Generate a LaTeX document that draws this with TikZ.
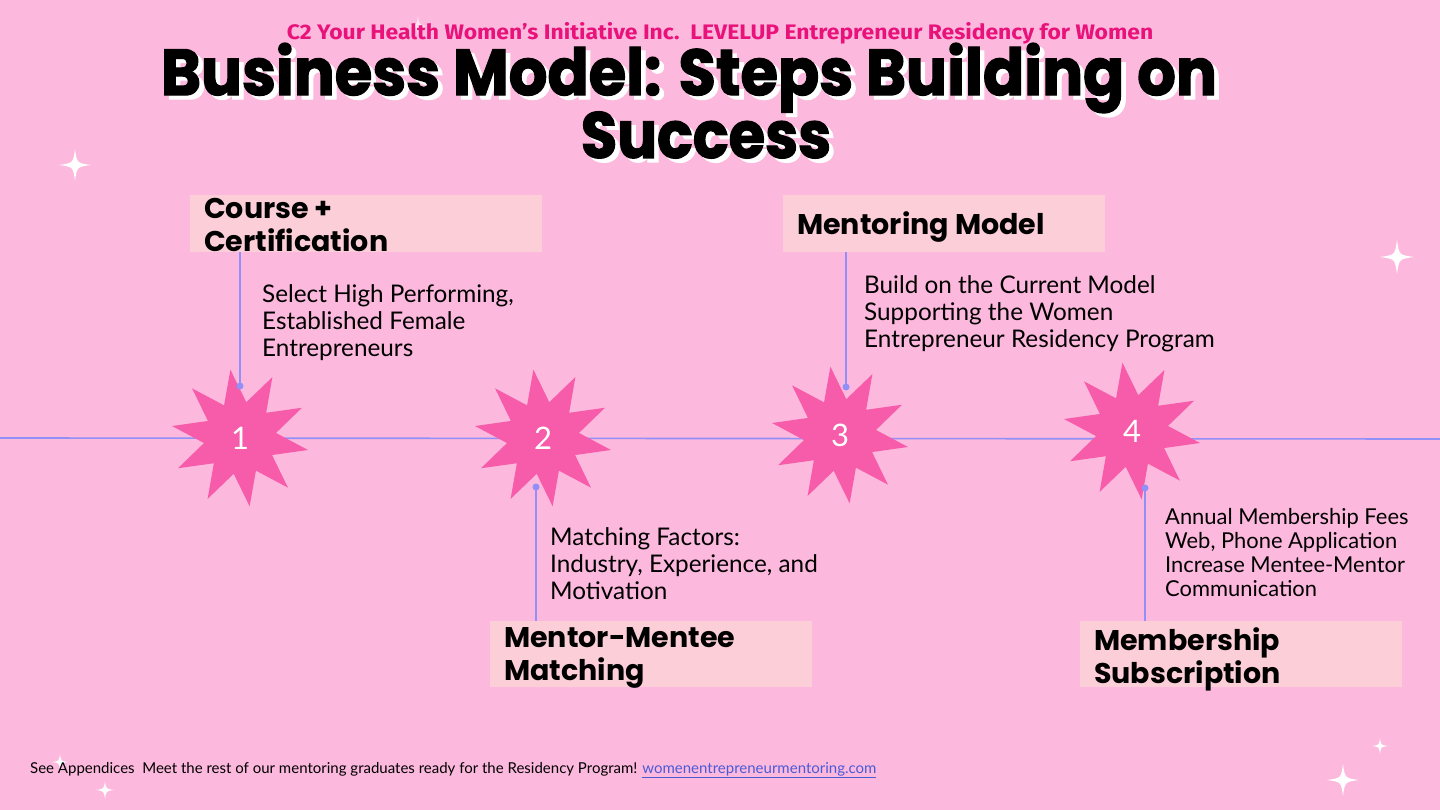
\documentclass[tikz,border=0pt]{standalone}
\usepackage{fontspec}
\setmainfont{Lato}
\newfontfamily\headfont{Poppins}
\newfontfamily\titlefont{Poppins}[BoldFeatures={FakeBold=2}]
\newfontfamily\subfont{Fira Sans}
\usetikzlibrary{shapes.geometric}
\definecolor{bgpink}{HTML}{FDB8DD}
\definecolor{boxpink}{HTML}{FCCFD8}
\definecolor{starpink}{HTML}{F65CA9}
\definecolor{linecol}{HTML}{9090F8}
\definecolor{subpink}{HTML}{E8127A}
\definecolor{linkblue}{HTML}{4A5BD6}
\newcommand{\shadowed}[1]{\rlap{\hspace{5pt}\raisebox{-4pt}{\color{white}#1}}#1}
\tikzset{
  sparkle/.pic={\fill[white] (0,-1) .. controls (0.12,-0.12) .. (1,0) .. controls (0.12,0.12) .. (0,1) .. controls (-0.12,0.12) .. (-1,0) .. controls (-0.12,-0.12) .. (0,-1) -- cycle;},
  burst/.style={star, star points=10, star point ratio=1.9, minimum size=138pt, inner sep=0pt, fill=starpink, shape border rotate=8, text=white, font=\fontsize{31}{31}\selectfont},
  headbox/.style={fill=boxpink, inner sep=0pt, anchor=north west},
  headtext/.style={anchor=north west, inner sep=0pt, align=left, font=\headfont\bfseries\fontsize{28.5}{33}\selectfont},
  bodytext/.style={anchor=north west, inner sep=0pt, align=left, font=\fontsize{24.3}{27}\selectfont},
  conn/.style={draw=linecol, line width=1.6pt},
  dotmark/.style={fill=linecol},
  titletext/.style={inner sep=0pt, text=black, font=\titlefont\bfseries\fontsize{65}{65}\selectfont},
}
\begin{document}
\begin{tikzpicture}[x=1pt,y=-1pt]
\fill[bgpink] (0,0) rectangle (1440,810);
\useasboundingbox (0,0) rectangle (1440,810);

% sparkles
\pic[scale=16] at (75,165) {sparkle};
\pic[scale=17] at (1397,257) {sparkle};
\pic[scale=8] at (1380,746) {sparkle};
\pic[scale=16] at (1343,780) {sparkle};
\pic[scale=8] at (60,762) {sparkle};
\pic[scale=9] at (105,790) {sparkle};
\pic[scale=10, opacity=0.6] at (418,26) {sparkle};
\pic[scale=6, opacity=0.5] at (464,52) {sparkle};

% subtitle
\node[font=\subfont\bfseries\fontsize{21}{24}\selectfont, text=subpink] (sub) at (720,33) {\scalebox{1.09}[1]{C2 Your Health Women’s Initiative Inc.\ \ LEVELUP Entrepreneur Residency for Women}};

% title with white shadow
\node[titletext] (t1) at (689,80) {\scalebox{0.935}[1]{\shadowed{Business Model: Steps Building on}}};
\node[titletext] (t2) at (706,137) {\scalebox{0.91}[1]{\shadowed{Success}}};

% timeline
\coordinate (tlL) at (0,438);
\coordinate (tlR) at (1440,439);
\draw[conn] (tlL) -- (tlR);

% stars
\node[burst] (s1) at (240,438) {1};
\node[burst] (s2) at (543,438) {2};
\node[burst] (s3) at (840,435) {3};
\node[burst] (s4) at (1132,431) {4};

% heading boxes
\node[headbox, minimum width=352pt, minimum height=57pt] (b1) at (190,195) {};
\node[headbox, minimum width=322pt, minimum height=57pt] (b3) at (783,195) {};
\node[headbox, minimum width=322pt, minimum height=66pt] (b2) at (490,621) {};
\node[headbox, minimum width=322pt, minimum height=66pt] (b4) at (1080,621) {};

\node[headtext] (h1) at (204,198) {Course +\\Certification};
\node[headtext] (h3) at (797,211) {Mentoring Model};
\node[headtext] (h2) at (504,627) {Mentor-Mentee\\Matching};
\node[headtext] (h4) at (1094,627) {Membership\\Subscription};

% connectors
\coordinate (d1) at (240,386);
\coordinate (d3) at (846,387);
\coordinate (d2) at (536,487);
\coordinate (d4) at (1145,488);
\draw[conn] (b1.south -| d1) -- (d1);
\draw[conn] (b3.south -| d3) -- (d3);
\draw[conn] (d2) -- (b2.north -| d2);
\draw[conn] (d4) -- (b4.north -| d4);
\fill[dotmark] (d1) circle (3.5);
\fill[dotmark] (d2) circle (3.5);
\fill[dotmark] (d3) circle (3.5);
\fill[dotmark] (d4) circle (3.5);

% body texts
\node[bodytext] (x1) at (262,284) {Select High Performing,\\Established Female\\Entrepreneurs};
\node[bodytext] (x3) at (864,275) {Build on the Current Model\\Supporting the Women\\Entrepreneur Residency Program};
\node[bodytext] (x2) at (550,527) {Matching Factors:\\Industry, Experience, and\\Motivation};
\node[bodytext, font=\fontsize{21.9}{24}\selectfont] (x4) at (1165,508) {Annual Membership Fees\\Web, Phone Application\\Increase Mentee-Mentor\\Communication};

% footer
\node[anchor=west, inner sep=0pt, font=\fontsize{15}{18}\selectfont] (foot) at (30,770) {See Appendices\ \ Meet the rest of our mentoring graduates ready for the Residency Program! \textcolor{linkblue}{\underline{womenentrepreneurmentoring.com}}};
\end{tikzpicture}
\end{document}
